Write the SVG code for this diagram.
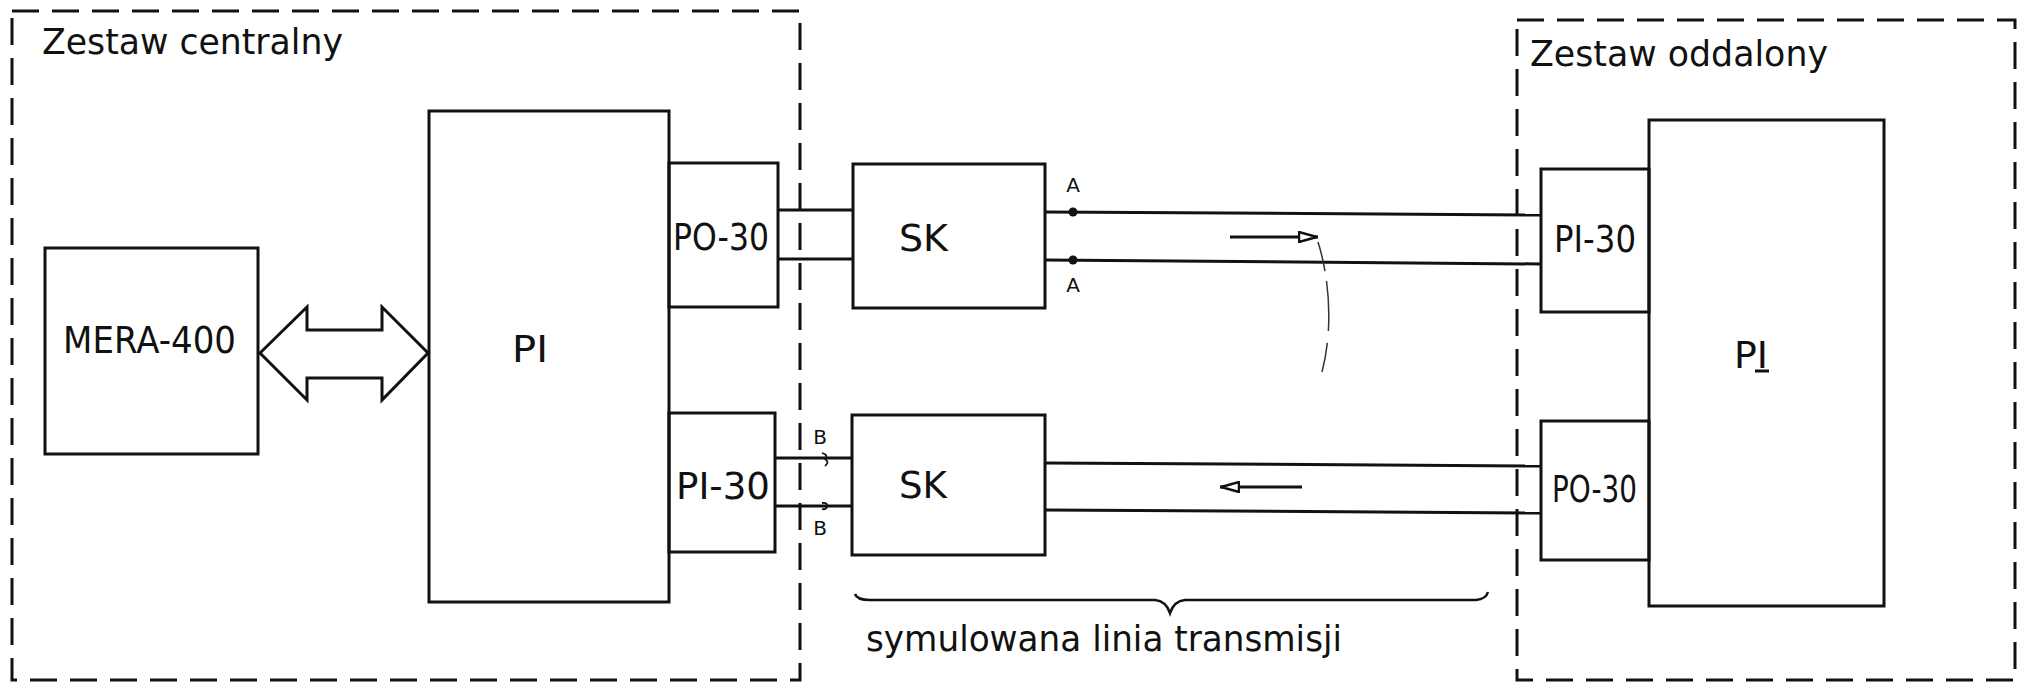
<svg xmlns="http://www.w3.org/2000/svg" width="2023" height="685" viewBox="0 0 2023 685">
<style>
.box{fill:none;stroke:#111;stroke-width:3}
.dash{fill:none;stroke:#111;stroke-width:3;stroke-dasharray:27 13}
.ln{fill:none;stroke:#111;stroke-width:3}
.lbl{font-family:"DejaVu Sans",sans-serif;fill:#111;font-size:37px}
.hand{font-family:"DejaVu Sans",sans-serif;fill:#111;font-size:35px}
.pt{font-family:"DejaVu Sans",sans-serif;fill:#111;font-size:20px;text-anchor:middle}
</style>
<defs>
<marker id="open" viewBox="0 0 20 12" refX="20" refY="6" markerWidth="20" markerHeight="12" markerUnits="userSpaceOnUse" orient="auto">
<path d="M1,1 L19,6 L1,11 Z" fill="#fff" stroke="#111" stroke-width="2.5"/>
</marker>
</defs>
<rect width="2023" height="685" fill="#fff"/>

<g id="zestaw-centralny">
<rect class="dash" x="12" y="11" width="788" height="669"/>
<text class="hand" x="42" y="54" textLength="301" lengthAdjust="spacingAndGlyphs">Zestaw centralny</text>
</g>
<g id="zestaw-oddalony">
<rect class="dash" x="1517" y="20" width="498" height="660"/>
<text class="hand" x="1530" y="66" textLength="298" lengthAdjust="spacingAndGlyphs">Zestaw oddalony</text>
</g>

<g id="mera400">
<rect class="box" x="45" y="248" width="213" height="206"/>
<text class="lbl" x="63" y="353" textLength="173" lengthAdjust="spacingAndGlyphs">MERA-400</text>
</g>
<g id="pi-central">
<rect class="box" x="429" y="111" width="240" height="491"/>
<text class="lbl" x="512" y="362" textLength="36" lengthAdjust="spacingAndGlyphs">PI</text>
</g>
<g id="po30-central">
<rect class="box" x="669" y="163" width="109" height="144"/>
<text class="lbl" x="673" y="250" textLength="96" lengthAdjust="spacingAndGlyphs">PO-30</text>
</g>
<g id="pi30-central">
<rect class="box" x="669" y="413" width="106" height="139"/>
<text class="lbl" x="676" y="499" textLength="94" lengthAdjust="spacingAndGlyphs">PI-30</text>
</g>
<g id="sk-top">
<rect class="box" x="853" y="164" width="192" height="144"/>
<text class="lbl" x="899" y="251" font-size="32" textLength="49" lengthAdjust="spacingAndGlyphs">SK</text>
</g>
<g id="sk-bottom">
<rect class="box" x="852" y="415" width="193" height="140"/>
<text class="lbl" x="899" y="498" font-size="32" textLength="48" lengthAdjust="spacingAndGlyphs">SK</text>
</g>
<g id="pi-remote">
<rect class="box" x="1649" y="120" width="235" height="486"/>
<text class="lbl" x="1734" y="368" textLength="34" lengthAdjust="spacingAndGlyphs">PI</text>
<line class="ln" x1="1755" y1="371" x2="1769" y2="371" stroke-width="2.5"/>
</g>
<g id="pi30-remote">
<rect class="box" x="1541" y="169" width="108" height="143"/>
<text class="lbl" x="1554" y="252" textLength="82" lengthAdjust="spacingAndGlyphs">PI-30</text>
</g>
<g id="po30-remote">
<rect class="box" x="1541" y="421" width="108" height="139"/>
<text class="lbl" x="1552" y="502" textLength="85" lengthAdjust="spacingAndGlyphs">PO-30</text>
</g>

<g id="connectors">
<path d="M260,353 L307,307 L307,330 L382,330 L382,307 L428,353 L382,400 L382,378 L307,378 L307,400 Z" fill="#fff" stroke="#111" stroke-width="3" stroke-linejoin="miter"/>
<line class="ln" x1="778" y1="210" x2="853" y2="210"/>
<line class="ln" x1="778" y1="259" x2="853" y2="259"/>
<line class="ln" x1="775" y1="458" x2="852" y2="458"/>
<line class="ln" x1="775" y1="506" x2="852" y2="506"/>
<line class="ln" x1="1045" y1="212" x2="1541" y2="215"/>
<line class="ln" x1="1045" y1="260" x2="1541" y2="264"/>
<line class="ln" x1="1045" y1="463" x2="1541" y2="466"/>
<line class="ln" x1="1045" y1="510" x2="1541" y2="513"/>
<circle cx="1073" cy="212" r="4.5" fill="#111"/>
<circle cx="1073" cy="260" r="4.5" fill="#111"/>
<path d="M822,453 q7,2 3,6 q5,3 0,7" fill="none" stroke="#111" stroke-width="1.8"/>
<path d="M822,503 q6,-1 5,4 q-1,3 -5,2" fill="none" stroke="#111" stroke-width="1.8"/>
<line x1="1230" y1="237" x2="1318" y2="237" stroke="#111" stroke-width="3" marker-end="url(#open)"/>
<line x1="1302" y1="487" x2="1220" y2="487" stroke="#111" stroke-width="3" marker-end="url(#open)"/>
<path d="M1318,242 C1330,280 1333,330 1322,372" fill="none" stroke="#333" stroke-width="1.5" stroke-dasharray="30 10 50 12"/>
<path d="M855,594 Q857,600 870,600 L1155,600 Q1166,601 1170,613 Q1174,601 1185,600 L1476,600 Q1486,599 1488,592" fill="none" stroke="#111" stroke-width="2.5"/>
<text class="pt" x="1073" y="192">A</text>
<text class="pt" x="1073" y="292">A</text>
<text class="pt" x="820" y="444" font-size="17">B</text>
<text class="pt" x="820" y="535" font-size="17">B</text>
<text class="hand" x="866" y="651" font-size="32" textLength="476" lengthAdjust="spacingAndGlyphs">symulowana linia transmisji</text>
</g>
</svg>
